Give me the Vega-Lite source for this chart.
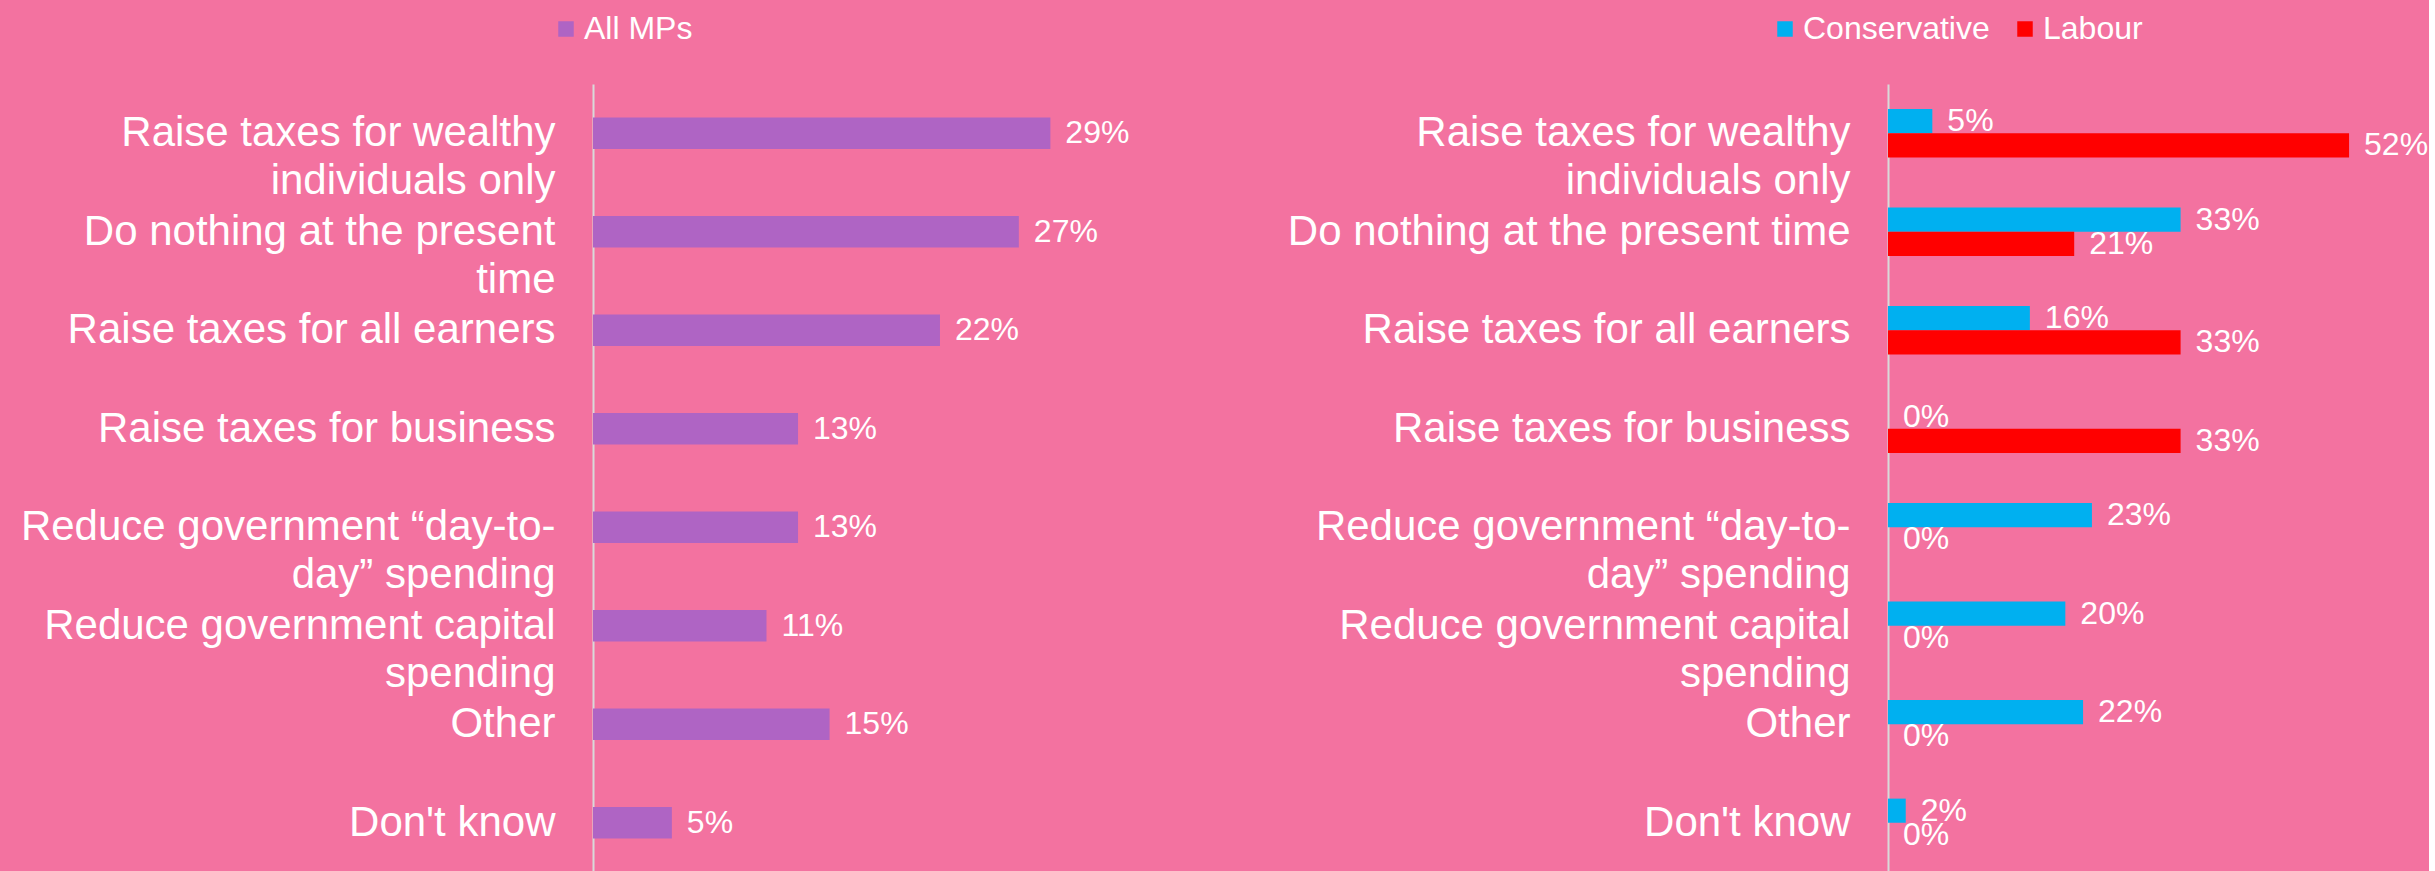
{
  "$schema": "https://vega.github.io/schema/vega-lite/v6.json",
  "background": "#F372A0",
  "padding": {"left": 20, "top": 13, "right": 0, "bottom": 0},
  "config": {
    "view": {"stroke": null},
    "font": "Liberation Sans",
    "axisY": {
      "domain": true, "domainColor": "#D9D9D9", "domainWidth": 2,
      "ticks": false, "grid": false,
      "labelColor": "white", "labelFontSize": 42, "labelFont": "Liberation Sans",
      "labelPadding": 38, "labelLimit": 1000, "labelLineHeight": 48,
      "labelAlign": "right", "labelBaseline": "middle", "title": null
    },
    "legend": {
      "orient": "none", "title": null, "labelFontSize": 32, "labelColor": "white",
      "labelFont": "Liberation Sans", "symbolType": "square", "symbolSize": 240,
      "symbolStrokeWidth": 0, "labelOffset": 2, "padding": 0, "direction": "horizontal",
      "columnPadding": 19, "labelLimit": 1000
    }
  },
  "datasets": {
    "mps": [
      {"option": "Raise taxes for wealthy individuals only", "group": "All MPs", "share": 0.29},
      {"option": "Do nothing at the present time", "group": "All MPs", "share": 0.27},
      {"option": "Raise taxes for all earners", "group": "All MPs", "share": 0.22},
      {"option": "Raise taxes for business", "group": "All MPs", "share": 0.13},
      {"option": "Reduce government “day-to-day” spending", "group": "All MPs", "share": 0.13},
      {"option": "Reduce government capital spending", "group": "All MPs", "share": 0.11},
      {"option": "Other", "group": "All MPs", "share": 0.15},
      {"option": "Don't know", "group": "All MPs", "share": 0.05}
    ],
    "party": [
      {"option": "Raise taxes for wealthy individuals only", "party": "Conservative", "share": 0.05},
      {"option": "Raise taxes for wealthy individuals only", "party": "Labour", "share": 0.52},
      {"option": "Do nothing at the present time", "party": "Conservative", "share": 0.33},
      {"option": "Do nothing at the present time", "party": "Labour", "share": 0.21},
      {"option": "Raise taxes for all earners", "party": "Conservative", "share": 0.16},
      {"option": "Raise taxes for all earners", "party": "Labour", "share": 0.33},
      {"option": "Raise taxes for business", "party": "Conservative", "share": 0.0},
      {"option": "Raise taxes for business", "party": "Labour", "share": 0.33},
      {"option": "Reduce government “day-to-day” spending", "party": "Conservative", "share": 0.23},
      {"option": "Reduce government “day-to-day” spending", "party": "Labour", "share": 0.0},
      {"option": "Reduce government capital spending", "party": "Conservative", "share": 0.20},
      {"option": "Reduce government capital spending", "party": "Labour", "share": 0.0},
      {"option": "Other", "party": "Conservative", "share": 0.22},
      {"option": "Other", "party": "Labour", "share": 0.0},
      {"option": "Don't know", "party": "Conservative", "share": 0.02},
      {"option": "Don't know", "party": "Labour", "share": 0.0}
    ]
  },
  "spacing": 142,
  "resolve": {
    "scale": {"color": "independent", "x": "independent", "y": "independent"},
    "legend": {"color": "independent"}
  },
  "hconcat": [
    {
      "width": 552,
      "height": 788,
      "data": {"name": "mps"},
      "encoding": {
        "y": {
          "field": "option", "type": "nominal",
          "sort": ["Raise taxes for wealthy individuals only", "Do nothing at the present time", "Raise taxes for all earners", "Raise taxes for business", "Reduce government “day-to-day” spending", "Reduce government capital spending", "Other", "Don't know"],
          "scale": {"paddingInner": 0.68, "paddingOuter": 0.34},
          "axis": {
            "labelExpr": "datum.value == 'Raise taxes for wealthy individuals only' ? ['Raise taxes for wealthy', 'individuals only'] : datum.value == 'Do nothing at the present time' ? ['Do nothing at the present', 'time'] : datum.value == 'Reduce government “day-to-day” spending' ? ['Reduce government “day-to-', 'day” spending'] : datum.value == 'Reduce government capital spending' ? ['Reduce government capital', 'spending'] : datum.value"
          }
        },
        "x": {"field": "share", "type": "quantitative", "scale": {"domain": [0, 0.35], "nice": false}, "axis": null}
      },
      "layer": [
        {
          "mark": {"type": "bar"},
          "encoding": {
            "color": {
              "field": "group", "type": "nominal",
              "scale": {"domain": ["All MPs"], "range": ["#AF64C4"]},
              "legend": {"legendX": -43, "legendY": -71}
            }
          }
        },
        {
          "mark": {"type": "text", "align": "left", "baseline": "middle", "dx": 15, "fontSize": 32, "color": "white", "font": "Liberation Sans"},
          "encoding": {"text": {"field": "share", "type": "quantitative", "format": ".0%"}}
        }
      ]
    },
    {
      "width": 532,
      "height": 788,
      "data": {"name": "party"},
      "encoding": {
        "y": {
          "field": "option", "type": "nominal",
          "sort": ["Raise taxes for wealthy individuals only", "Do nothing at the present time", "Raise taxes for all earners", "Raise taxes for business", "Reduce government “day-to-day” spending", "Reduce government capital spending", "Other", "Don't know"],
          "scale": {"paddingInner": 0.51, "paddingOuter": 0.255},
          "axis": {
            "labelExpr": "datum.value == 'Raise taxes for wealthy individuals only' ? ['Raise taxes for wealthy', 'individuals only'] : datum.value == 'Reduce government “day-to-day” spending' ? ['Reduce government “day-to-', 'day” spending'] : datum.value == 'Reduce government capital spending' ? ['Reduce government capital', 'spending'] : datum.value"
          }
        },
        "yOffset": {"field": "party", "type": "nominal", "sort": ["Conservative", "Labour"], "scale": {"paddingInner": 0, "paddingOuter": 0}},
        "x": {"field": "share", "type": "quantitative", "scale": {"domain": [0, 0.6], "nice": false}, "axis": null}
      },
      "layer": [
        {
          "mark": {"type": "bar"},
          "encoding": {
            "color": {
              "field": "party", "type": "nominal",
              "scale": {"domain": ["Conservative", "Labour"], "range": ["#00B0F0", "#FF0000"]},
              "legend": {"legendX": -119, "legendY": -71}
            }
          }
        },
        {
          "mark": {"type": "text", "align": "left", "baseline": "middle", "dx": 15, "fontSize": 32, "color": "white", "font": "Liberation Sans"},
          "encoding": {"text": {"field": "share", "type": "quantitative", "format": ".0%"}}
        }
      ]
    }
  ]
}
